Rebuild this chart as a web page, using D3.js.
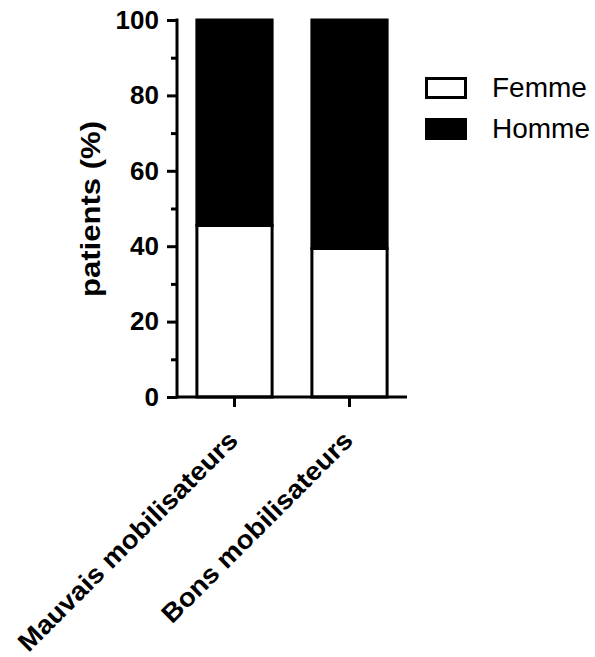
<!DOCTYPE html>
<html>
<head>
<meta charset="utf-8">
<script src="https://cdn.jsdelivr.net/npm/d3@7"></script>
<style>
  body { margin: 0; background: #fff; }
  svg { display: block; font-family: "Liberation Sans", Arial, sans-serif; }
</style>
</head>
<body>
<svg id="chart" width="595" height="657"></svg>
<script>
// data
const categories = ["Mauvais mobilisateurs", "Bons mobilisateurs"];
const femme = [45.5, 39.4];
const homme = [54.5, 60.6];
const seriesNames = ["Femme", "Homme"];
const yTicks = [0, 20, 40, 60, 80, 100];
const yMinorTicks = [10, 30, 50, 70, 90];

const svg = d3.select("#chart");

const y = d3.scaleLinear().domain([0, 100]).range([397, 20]);
const x = d3.scaleBand()
  .domain(categories)
  .range([177, 407])
  .paddingInner(0.32)
  .paddingOuter(0.16);

const color = d3.scaleOrdinal().domain(seriesNames).range(["#fff", "#000"]);

// widen text a bit, the original font runs wider than Arial
function stretch(sel, f) {
  sel.each(function () {
    const w = this.getComputedTextLength();
    d3.select(this).attr("textLength", w * f).attr("lengthAdjust", "spacingAndGlyphs");
  });
}

// stacked bars
const rows = categories.map((c, i) => ({ cat: c, Femme: femme[i], Homme: homme[i] }));
const stacked = d3.stack().keys(seriesNames)(rows);

svg.append("g").selectAll("g")
  .data(stacked)
  .join("g")
  .attr("fill", d => color(d.key))
  .selectAll("rect")
  .data(d => d)
  .join("rect")
  .attr("x", d => x(d.data.cat) + 1.5)
  .attr("width", x.bandwidth() - 3)
  .attr("y", d => y(d[1]))
  .attr("height", d => y(d[0]) - y(d[1]))
  .attr("stroke", "#000")
  .attr("stroke-width", 3);

// y axis
const yAxis = svg.append("g").attr("transform", "translate(177,0)");
yAxis.call(d3.axisLeft(y).tickValues(yTicks).tickSize(10).tickPadding(8));
yAxis.append("g").call(d3.axisLeft(y).tickValues(yMinorTicks).tickSize(6).tickFormat(""))
  .select(".domain").remove();
yAxis.selectAll("line").attr("stroke", "#000").attr("stroke-width", 3);
yAxis.selectAll(".domain").attr("stroke", "#000").attr("stroke-width", 3)
  .attr("d", `M0,${y(100) - 1.5}V${y(0) + 1.5}`);
yAxis.selectAll("text")
  .attr("font-size", 26).attr("font-weight", "bold").attr("fill", "#000")
  .attr("font-family", "Liberation Sans, Arial, sans-serif");

// x axis
const xAxis = svg.append("g").attr("transform", `translate(0,${y(0)})`);
xAxis.call(d3.axisBottom(x).tickSize(10).tickSizeOuter(0).tickFormat(""));
xAxis.selectAll("line").attr("stroke", "#000").attr("stroke-width", 3);
xAxis.select(".domain").attr("stroke", "#000").attr("stroke-width", 3)
  .attr("d", "M177,0H407");

const xLabels = svg.append("g").selectAll("text")
  .data(categories)
  .join("text")
  .attr("transform", d => `translate(${x(d) + x.bandwidth() / 2 + 5},442) rotate(-45)`)
  .attr("text-anchor", "end")
  .attr("font-size", 26)
  .attr("font-weight", "bold")
  .text(d => d);
stretch(xLabels, 1.07);

// y title
const yTitle = svg.append("text")
  .attr("transform", "translate(100,209) rotate(-90)")
  .attr("text-anchor", "middle")
  .attr("font-size", 27)
  .attr("font-weight", "bold")
  .text("patients (%)");
stretch(yTitle, 1.15);

// legend
const legend = svg.append("g").attr("transform", "translate(425,77)");
const items = legend.selectAll("g")
  .data(seriesNames)
  .join("g")
  .attr("transform", (d, i) => `translate(0,${i * 41})`);

items.append("rect")
  .attr("x", 1.5)
  .attr("y", 1.5)
  .attr("width", 39)
  .attr("height", 19)
  .attr("fill", d => color(d))
  .attr("stroke", "#000")
  .attr("stroke-width", 3);

const legendText = items.append("text")
  .attr("x", 67)
  .attr("y", 20)
  .attr("font-size", 28)
  .text(d => d);
</script>
</body>
</html>
